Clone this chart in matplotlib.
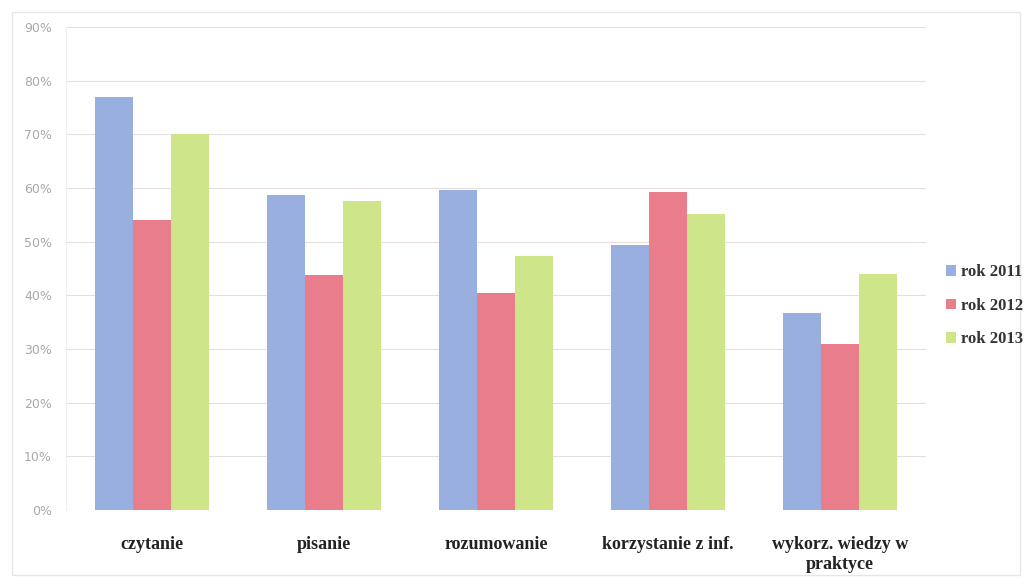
import numpy as np
import matplotlib.pyplot as plt
from matplotlib.patches import Rectangle

# dane
kategorie = ['czytanie', 'pisanie', 'rozumowanie', 'korzystanie z inf.',
             'wykorz. wiedzy w\npraktyce']
lata = ['rok 2011', 'rok 2012', 'rok 2013']
rok_2011 = [77, 58.6, 59.7, 49.4, 36.6]
rok_2012 = [54, 43.7, 40.5, 59.3, 31]
rok_2013 = [70, 57.6, 47.4, 55.2, 44]
kolory = ['#98afdf', '#e97d8b', '#cfe58a']

fig = plt.figure(figsize=(10.3, 5.86), dpi=100)
ax = fig.add_axes((0.064, 0.130, 0.835, 0.824))

# ramka wokół całego wykresu
fig.patches.append(Rectangle((0.012, 0.018), 0.978, 0.962, transform=fig.transFigure,
                             fill=False, edgecolor='#e6e6e6', linewidth=1))

x = np.arange(len(kategorie))
w = 0.22
serie = [rok_2011, rok_2012, rok_2013]
for i, (s, lab, c) in enumerate(zip(serie, lata, kolory)):
    ax.bar(x + (i - 1) * w, s, width=w, color=c, label=lab, zorder=3)

ax.set_xlim(-0.5, len(kategorie) - 0.5)
ax.set_ylim(0, 90)
ax.set_yticks(np.arange(0, 91, 10))
ax.set_yticklabels([f'{v}%' for v in range(0, 91, 10)], color='#a8a8a8',
                   fontsize=9)
ax.set_xticks(x)
ax.set_xticklabels(kategorie, fontfamily='Liberation Serif', fontweight='bold',
                   fontsize=13, color='#222222', linespacing=1.2)
ax.tick_params(axis='both', length=0)
ax.tick_params(axis='x', pad=19)
ax.tick_params(axis='y', pad=10)

ax.grid(axis='y', color='#e6dede', linewidth=0.8, zorder=0)
for sp in ['top', 'right', 'bottom']:
    ax.spines[sp].set_visible(False)
ax.spines['left'].set_color('#eeeeee')

h, l = ax.get_legend_handles_labels()
leg = fig.legend(h, l, loc='center left', bbox_to_anchor=(0.918, 0.478),
                 frameon=False, borderpad=0, borderaxespad=0,
                 prop={'family': 'Liberation Serif', 'weight': 'bold', 'size': 12},
                 handlelength=0.6, handleheight=0.6, handletextpad=0.3,
                 labelspacing=1.05)
for t in leg.get_texts():
    t.set_color('#333333')

fig.savefig('out.png', dpi=100)
